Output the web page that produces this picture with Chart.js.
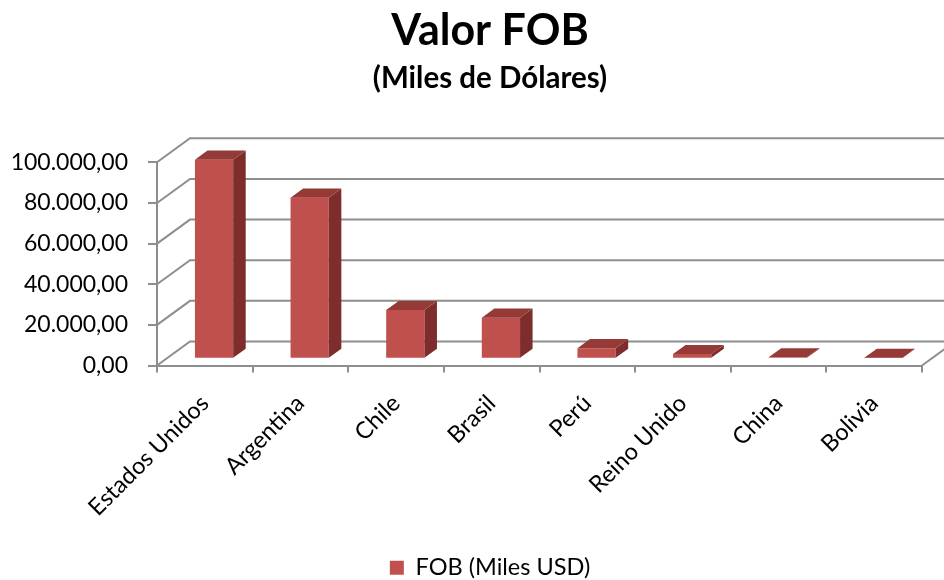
<!DOCTYPE html>
<html>
<head>
<meta charset="utf-8">
<script src="https://cdn.jsdelivr.net/npm/chart.js@4"></script>
<style>
  html, body { margin: 0; padding: 0; background: #fff; }
</style>
</head>
<body>
<canvas id="myChart" width="944" height="580"></canvas>
<script>
// data (Miles USD)
const countries = ['Estados Unidos', 'Argentina', 'Chile', 'Brasil', 'Perú', 'Reino Unido', 'China', 'Bolivia'];
const fobValues = [98000, 79300, 24000, 20200, 5200, 2300, 700, 400];
const yTicks = [0, 20000, 40000, 60000, 80000, 100000];
const seriesName = 'FOB (Miles USD)';

const frontColor = '#C0504D';
const sideColor = '#7D2E2C';
const topColor = '#963A37';
const gridColor = '#8E8E8E';

// depth of the box (back wall offset) and where the bars sit inside it
const depthX = 33, depthY = -24;
const barShift = 0.28;
const barDepth = 0.38;

function fmt(v)
{
    let parts = v.toFixed(2).split('.');
    let ent = parts[0].replace(/\B(?=(\d{3})+(?!\d))/g, '.');
    return ent + ',' + parts[1];
}

const box3d = {
    id: 'box3d',
    beforeDatasetsDraw(chart) {
        const ctx = chart.ctx;
        const a = chart.chartArea;
        const y = chart.scales.y;
        ctx.save();
        ctx.strokeStyle = gridColor;
        ctx.lineWidth = 2;
        y.ticks.forEach(t => {
            const py = y.getPixelForValue(t.value);
            ctx.beginPath();
            ctx.moveTo(a.left, py);
            ctx.lineTo(a.left + depthX, py + depthY);
            ctx.lineTo(a.right + depthX, py + depthY);
            ctx.stroke();
        });
        // right edge of the floor
        ctx.beginPath();
        ctx.moveTo(a.right, a.bottom);
        ctx.lineTo(a.right + depthX, a.bottom + depthY);
        ctx.stroke();
        ctx.restore();

        // bars stand a bit inside the box
        ctx.save();
        ctx.translate(depthX * barShift, depthY * barShift);
    },
    afterDatasetsDraw(chart) {
        const ctx = chart.ctx;
        const bx = depthX * barDepth, by = depthY * barDepth;
        chart.getDatasetMeta(0).data.forEach(bar => {
            const l = bar.x - bar.width / 2;
            const r = bar.x + bar.width / 2;
            const t = Math.min(bar.y, bar.base);
            const b = Math.max(bar.y, bar.base);
            // side face
            ctx.fillStyle = sideColor;
            ctx.beginPath();
            ctx.moveTo(r, t);
            ctx.lineTo(r + bx, t + by);
            ctx.lineTo(r + bx, b + by);
            ctx.lineTo(r, b);
            ctx.closePath();
            ctx.fill();
            // top face
            ctx.fillStyle = topColor;
            ctx.beginPath();
            ctx.moveTo(l, t);
            ctx.lineTo(l + bx, t + by);
            ctx.lineTo(r + bx, t + by);
            ctx.lineTo(r, t);
            ctx.closePath();
            ctx.fill();
        });
        ctx.restore();
    }
};

Chart.defaults.font.family = "Lato, 'Liberation Sans', sans-serif";
Chart.defaults.color = '#000';

const ctx = document.getElementById('myChart');

new Chart(ctx, {
    type: 'bar',
    data: {
        labels: countries,
        datasets: [{
            label: seriesName,
            data: fobValues,
            backgroundColor: frontColor,
            borderWidth: 0,
            barPercentage: 0.4,
            categoryPercentage: 1,
            clip: false
        }]
    },
    plugins: [box3d],
    options: {
        responsive: false,
        animation: false,
        // title and legend are centred a bit right of the canvas middle
        layout: { padding: { left: 0, right: -36, top: 0, bottom: -9.5 } },
        plugins: {
            title: {
                display: true,
                text: 'Valor FOB',
                font: { size: 43, weight: 'bold' },
                padding: { top: 5, bottom: 0 }
            },
            subtitle: {
                display: true,
                text: '(Miles de Dólares)',
                font: { size: 29.5, weight: 'bold' },
                color: '#000',
                padding: { top: 4, bottom: 66.3 }
            },
            legend: {
                position: 'bottom',
                labels: {
                    boxWidth: 14,
                    boxHeight: 14,
                    padding: 10,
                    font: { size: 23.5 }
                }
            },
            tooltip: { enabled: false }
        },
        scales: {
            x: {
                grid: {
                    drawOnChartArea: false,
                    offset: true,
                    tickLength: 7,
                    color: gridColor,
                    lineWidth: 2
                },
                border: { color: gridColor, width: 2 },
                ticks: {
                    autoSkip: false,
                    minRotation: 45,
                    maxRotation: 45,
                    padding: 17,
                    font: { size: 23.5 }
                },
                afterFit: s => { s.height = 180.5; }
            },
            y: {
                min: 0,
                max: 100000,
                afterBuildTicks: s => { s.ticks = yTicks.map(v => ({ value: v })); },
                grid: {
                    drawOnChartArea: false,
                    tickLength: 9,
                    color: gridColor,
                    lineWidth: 2
                },
                border: { color: gridColor, width: 2 },
                ticks: {
                    padding: 20,
                    font: { size: 23 },
                    callback: v => fmt(v)
                },
                afterFit: s => { s.width = 157; }
            },
            // empty spacer on the right, keeps the plot from running to the edge
            pad: {
                type: 'linear',
                position: 'right',
                display: true,
                grid: { display: false },
                border: { display: false },
                ticks: { display: false },
                afterFit: s => { s.width = 58; }
            }
        }
    }
});
</script>
</body>
</html>
